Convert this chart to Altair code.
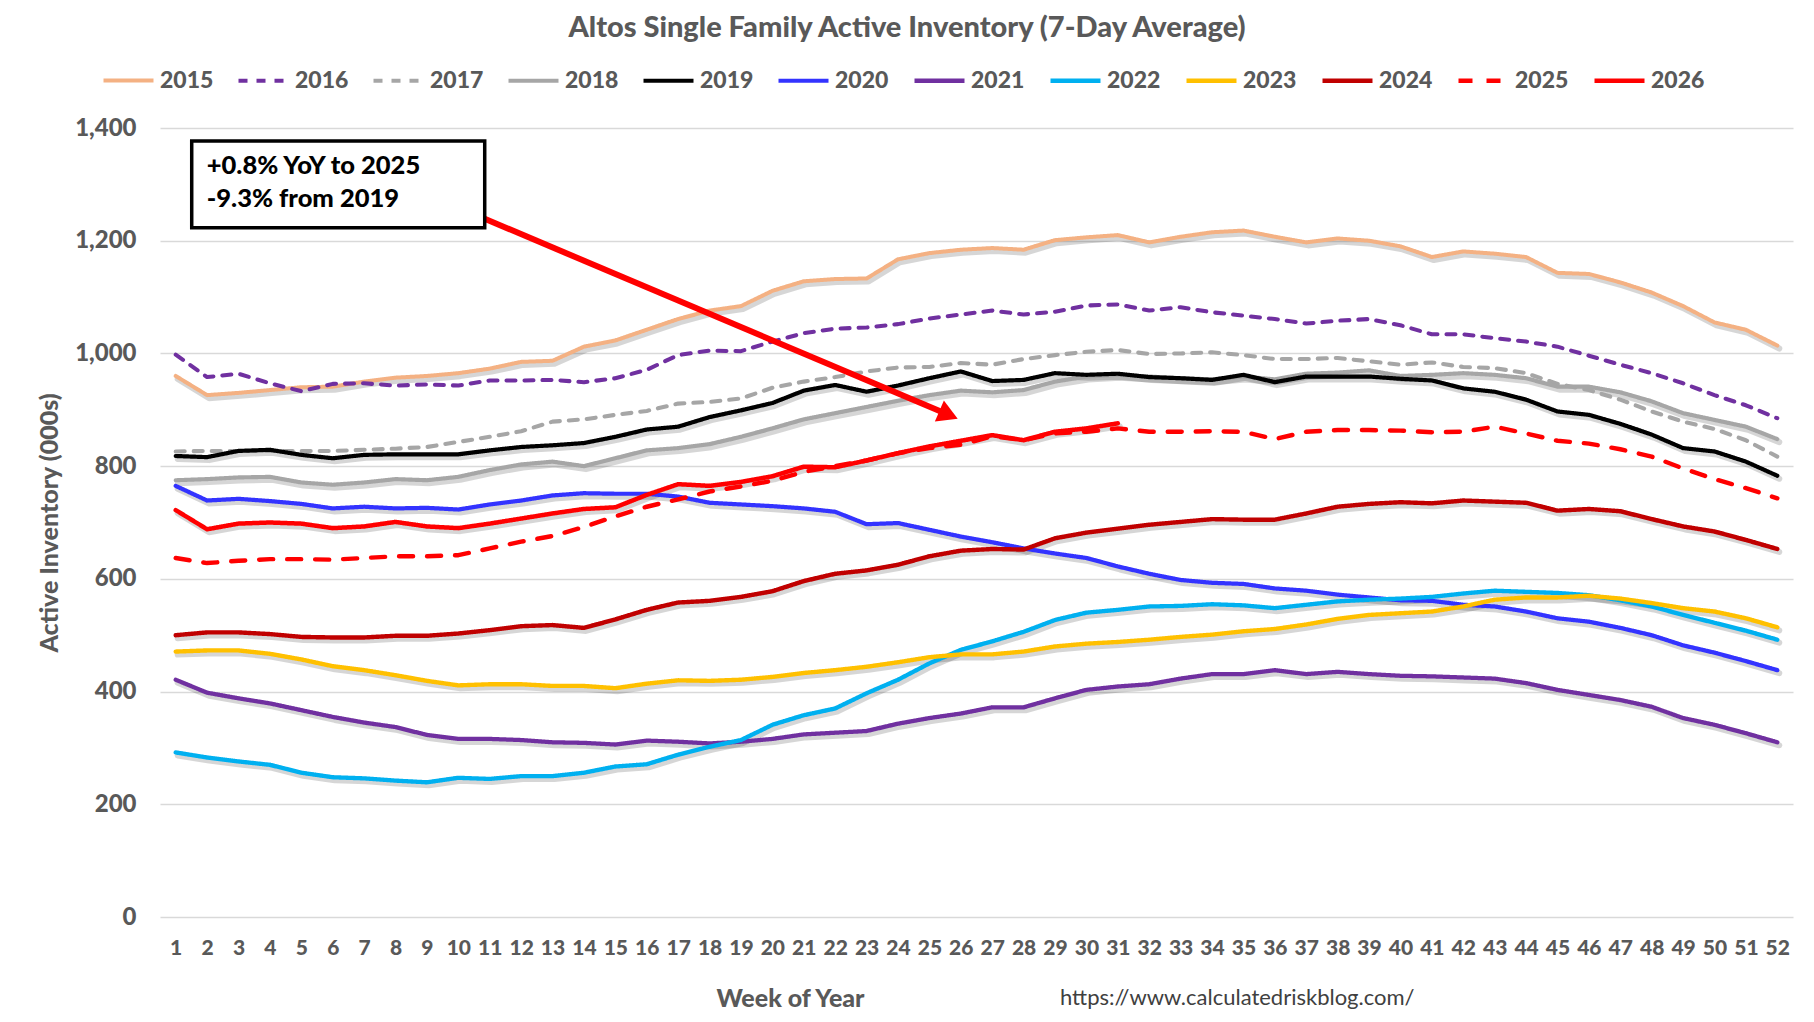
import altair as alt
import pandas as pd

WEEKS = list(range(1, 53))
YEARS = ["2015", "2016", "2017", "2018", "2019", "2020", "2021", "2022", "2023", "2024", "2025", "2026"]

V2015 = [960, 926, 930, 935, 940, 941, 950, 957, 960, 965, 973, 985, 987, 1012, 1023, 1042, 1061, 1076, 1084, 1111,
         1128, 1132, 1133, 1167, 1178, 1184, 1187, 1184, 1201, 1206, 1210, 1197, 1207, 1215, 1218, 1207, 1197, 1204,
         1200, 1190, 1171, 1181, 1177, 1171, 1143, 1141, 1126, 1108, 1084, 1055, 1042, 1014]
V2016 = [998, 958, 964, 947, 933, 946, 947, 943, 945, 943, 952, 952, 953, 949, 956, 971, 997, 1005, 1004, 1021,
         1036, 1044, 1046, 1052, 1062, 1069, 1076, 1069, 1074, 1085, 1087, 1076, 1082, 1073, 1067, 1061, 1053, 1058,
         1061, 1050, 1034, 1034, 1027, 1021, 1012, 996, 980, 965, 947, 926, 908, 885]
V2017 = [826, 827, 827, 827, 827, 827, 829, 831, 834, 843, 852, 862, 879, 883, 891, 898, 911, 914, 920, 939,
         950, 958, 968, 975, 976, 983, 980, 990, 997, 1003, 1006, 999, 1000, 1002, 997, 990, 990, 992,
         986, 980, 984, 976, 974, 965, 946, 935, 918, 897, 879, 866, 846, 817]
V2018 = [775, 777, 780, 781, 771, 767, 771, 777, 775, 781, 793, 803, 808, 800, 814, 828, 832, 839, 852, 867,
         883, 894, 905, 916, 926, 934, 931, 935, 950, 959, 962, 959, 956, 954, 959, 954, 964, 966,
         970, 960, 962, 965, 962, 956, 941, 941, 931, 915, 894, 882, 870, 848]
V2019 = [818, 816, 827, 829, 820, 814, 820, 821, 821, 821, 828, 834, 837, 841, 852, 865, 870, 887, 899, 912,
         934, 944, 932, 943, 956, 968, 951, 953, 965, 962, 964, 958, 956, 953, 962, 949, 959, 959,
         959, 955, 952, 938, 932, 918, 897, 891, 875, 856, 832, 826, 808, 783]
V2020 = [765, 739, 742, 738, 733, 725, 728, 725, 726, 723, 732, 739, 748, 752, 751, 751, 746, 735, 732, 729,
         725, 719, 697, 699, 687, 675, 665, 654, 645, 637, 622, 609, 598, 593, 591, 583, 579, 572,
         567, 562, 561, 554, 551, 542, 530, 524, 513, 500, 482, 469, 454, 438]
V2021 = [421, 398, 388, 379, 367, 355, 345, 337, 323, 316, 316, 314, 310, 309, 306, 313, 311, 308, 311, 316,
         324, 327, 330, 343, 353, 361, 372, 372, 388, 403, 409, 413, 423, 431, 431, 438, 431, 435,
         431, 428, 427, 425, 423, 415, 403, 394, 385, 373, 353, 341, 326, 310]
V2022 = [292, 283, 276, 270, 256, 248, 246, 242, 239, 247, 245, 250, 250, 256, 267, 271, 288, 302, 314, 341,
         358, 370, 397, 421, 450, 474, 489, 506, 527, 540, 545, 551, 552, 555, 553, 548, 554, 560,
         563, 565, 568, 574, 579, 577, 575, 571, 562, 551, 536, 522, 508, 492]
V2023 = [471, 473, 473, 467, 457, 445, 438, 429, 419, 411, 413, 413, 410, 410, 406, 414, 420, 419, 421, 426,
         433, 438, 444, 452, 461, 466, 466, 471, 480, 485, 488, 492, 497, 501, 507, 511, 519, 529,
         536, 539, 542, 551, 563, 567, 567, 570, 565, 557, 548, 542, 530, 514]
V2024 = [500, 505, 505, 502, 497, 496, 496, 499, 499, 503, 509, 516, 518, 513, 528, 545, 558, 561, 568, 578,
         596, 609, 615, 625, 640, 650, 653, 652, 672, 682, 689, 696, 701, 706, 705, 705, 716, 728,
         733, 736, 734, 739, 737, 735, 721, 724, 720, 706, 693, 684, 669, 653]
V2025 = [637, 628, 632, 635, 635, 634, 637, 640, 640, 642, 654, 666, 676, 692, 711, 728, 741, 755, 764, 774,
         790, 800, 810, 823, 832, 838, 853, 846, 858, 861, 867, 861, 861, 862, 861, 848, 861, 864,
         864, 863, 860, 861, 870, 858, 845, 840, 830, 817, 796, 777, 761, 743]
V2026 = [722, 688, 698, 700, 698, 690, 693, 701, 693, 690, 698, 707, 716, 724, 727, 749, 768, 765, 772, 782,
         799, 798, 810, 823, 835, 845, 855, 846, 861, 867, 876]

SERIES = [V2015, V2016, V2017, V2018, V2019, V2020, V2021, V2022, V2023, V2024, V2025, V2026]
COLORS = ["#F4B183", "#7030A0", "#A6A6A6", "#A6A6A6", "#000000", "#3333FF",
          "#7030A0", "#00B0F0", "#FFC000", "#C00000", "#FF0000", "#FF0000"]
DASHES = [[1, 0], [9, 9], [9, 9], [1, 0], [1, 0], [1, 0],
          [1, 0], [1, 0], [1, 0], [1, 0], [14, 14], [1, 0]]
WIDTHS = [4, 4.5, 4.5, 4, 6, 6, 6, 6, 6, 6, 6.5, 6]
SOLID = ["2015", "2018", "2019", "2020", "2021", "2022", "2023", "2024", "2026"]

Y_TICKS = [0, 200, 400, 600, 800, 1000, 1200, 1400]

TITLE = "Altos Single Family Active Inventory (7-Day Average)"
URL = "https://www.calculatedriskblog.com/"
NOTE_LINES = ["+0.8% YoY to 2025", "-9.3% from 2019"]
# annotation geometry in data units (week, inventory)
BOX_X = [1.51, 10.84]
BOX_Y = [1377, 1223]
NOTE_X = [1.99, 1.99]
NOTE_Y = [1333, 1274]
ARROW_X = [10.84, 25.61]
ARROW_Y = [1239, 891]

FONT = "Lato"
GREY = "#595959"
W = 900

rows = []
for yr, vals in zip(YEARS, SERIES):
    for w, v in zip(WEEKS, vals):
        rows.append({"week": w, "value": v, "year": yr})
df = pd.DataFrame(rows)

X_AX = alt.Axis(values=WEEKS, title="Week of Year", grid=False, ticks=False, tickSize=0, domain=False,
                labelFont=FONT, labelFontSize=21, labelFontWeight=W, labelColor=GREY,
                labelPadding=20, labelAngle=0, labelOverlap=False, labelFlush=False,
                titleFont=FONT, titleFontSize=25, titleFontWeight=W, titleColor=GREY,
                titleX=630, titleY=81, titleBaseline="middle", titleAnchor="middle")
Y_AX = alt.Axis(values=Y_TICKS, format=",d", title="Active Inventory (000s)", grid=True,
                gridColor="#D9D9D9", gridWidth=1.5, ticks=False, tickSize=0, domain=False,
                labelFont=FONT, labelFontSize=24, labelFontWeight=W, labelColor=GREY, labelPadding=24,
                titleFont=FONT, titleFontSize=25, titleFontWeight=W, titleColor=GREY,
                titleX=-111, titleY=394.5, titleAngle=270, titleBaseline="middle", titleAlign="center")
XS = alt.Scale(domain=[0.5, 52.5], nice=False, zero=False)
YS = alt.Scale(domain=[0, 1400], nice=False)

LEG = alt.Legend(title=None, orient="none", legendX=-59, legendY=-75, direction="horizontal", columns=12,
                 symbolType="stroke", symbolSize=2500, symbolStrokeWidth=6, columnPadding=16,
                 labelFont=FONT, labelFontSize=23, labelFontWeight=W, labelColor=GREY, labelOffset=4)

base = alt.Chart(df)

shadow = base.transform_filter(alt.FieldOneOfPredicate(field="year", oneOf=SOLID)).mark_line(
    color="#000000", opacity=0.16, strokeWidth=6, xOffset=2, yOffset=3, strokeCap="round", strokeJoin="round"
).encode(
    x=alt.X("week:Q", scale=XS, axis=X_AX),
    y=alt.Y("value:Q", scale=YS, axis=Y_AX),
    detail="year:N",
)

lines = base.mark_line(strokeCap="round", strokeJoin="round").encode(
    x=alt.X("week:Q", scale=XS, axis=X_AX),
    y=alt.Y("value:Q", scale=YS, axis=Y_AX),
    color=alt.Color("year:N", scale=alt.Scale(domain=YEARS, range=COLORS), legend=LEG),
    strokeDash=alt.StrokeDash("year:N", scale=alt.Scale(domain=YEARS, range=DASHES), legend=LEG),
    strokeWidth=alt.StrokeWidth("year:N", scale=alt.Scale(domain=YEARS, range=WIDTHS), legend=None),
)

arrow_df = pd.DataFrame({"week": [ARROW_X[0]], "week2": [ARROW_X[1]],
                         "value": [ARROW_Y[0]], "value2": [ARROW_Y[1]]})
arrow = alt.Chart(arrow_df).mark_rule(color="#FF0000", strokeWidth=6).encode(
    x=alt.X("week:Q", scale=XS, axis=X_AX), x2="week2:Q",
    y=alt.Y("value:Q", scale=YS, axis=Y_AX), y2="value2:Q",
)
head_df = pd.DataFrame({"week": [ARROW_X[1]], "value": [ARROW_Y[1]]})
head = alt.Chart(head_df).mark_point(shape="triangle-up", filled=True, color="#FF0000", opacity=1,
                                     size=529, angle=113, strokeWidth=0).encode(
    x=alt.X("week:Q", scale=XS, axis=X_AX),
    y=alt.Y("value:Q", scale=YS, axis=Y_AX),
)

box_df = pd.DataFrame({"week": [BOX_X[0]], "week2": [BOX_X[1]], "value": [BOX_Y[0]], "value2": [BOX_Y[1]]})
box = alt.Chart(box_df).mark_rect(fill="white", stroke="black", strokeWidth=3.5).encode(
    x=alt.X("week:Q", scale=XS, axis=X_AX), x2="week2:Q",
    y=alt.Y("value:Q", scale=YS, axis=Y_AX), y2="value2:Q",
)
note_df = pd.DataFrame({"week": NOTE_X, "value": NOTE_Y, "t": NOTE_LINES})
note = alt.Chart(note_df).mark_text(align="left", baseline="middle", font=FONT, fontSize=25.5,
                                    fontWeight=W, color="black").encode(
    x=alt.X("week:Q", scale=XS, axis=X_AX),
    y=alt.Y("value:Q", scale=YS, axis=Y_AX),
    text="t:N",
)

title = alt.Chart(pd.DataFrame({"t": [TITLE]})).mark_text(
    align="center", baseline="middle", font=FONT, fontSize=29, fontWeight=W, color=GREY
).encode(x=alt.value(747), y=alt.value(-100), text="t:N")

url = alt.Chart(pd.DataFrame({"t": [URL]})).mark_text(
    align="left", baseline="middle", font=FONT, fontSize=22, color="#404040"
).encode(x=alt.value(900), y=alt.value(870), text="t:N")

chart = alt.layer(shadow, lines, arrow, head, box, note, title, url).properties(
    width=1633, height=789,
    autosize=alt.AutoSizeParams(type="none"),
    padding={"left": 152, "top": 120, "right": 13, "bottom": 98},
).configure_view(stroke=None)

chart.save("out.html", embed_options={"renderer": "svg", "actions": False})
